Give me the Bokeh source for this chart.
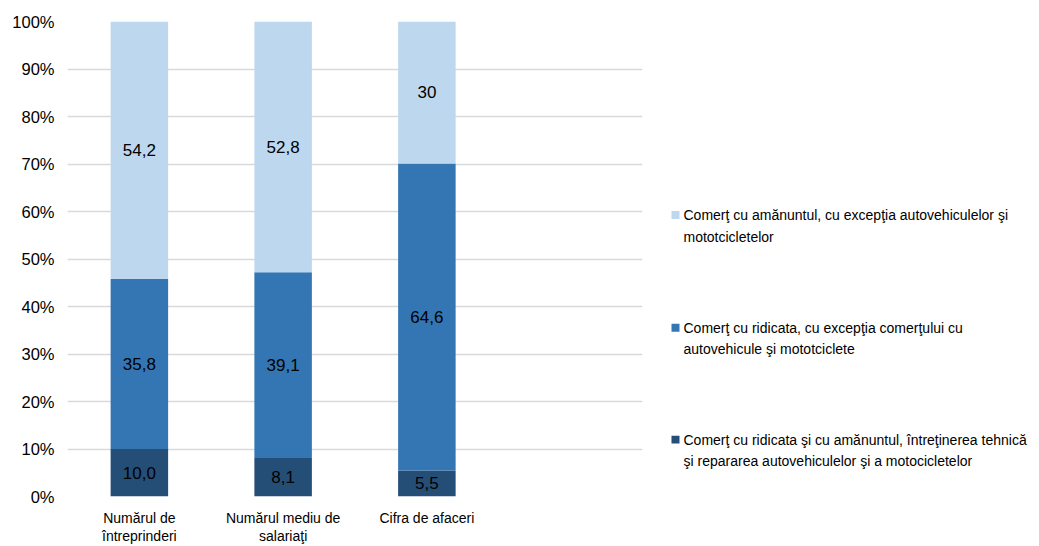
from bokeh.plotting import figure
from bokeh.models import FactorRange, Range1d, FixedTicker, PrintfTickFormatter, ColumnDataSource
from bokeh.layouts import row
from bokeh.core.properties import value
from bokeh.embed import file_html
from bokeh.resources import INLINE

# ---------------- data ----------------
categories = ["Numărul de\nîntreprinderi", "Numărul mediu de\nsalariaţi", "Cifra de afaceri"]
series_names = [
    "Comerţ cu ridicata şi cu amănuntul, întreţinerea tehnică\nşi repararea autovehiculelor şi a motocicletelor",
    "Comerţ cu ridicata, cu excepţia comerţului  cu\nautovehicule şi mototciclete",
    "Comerţ cu amănuntul, cu excepţia  autovehiculelor şi\nmototcicletelor",
]
dark_vals = [10.0, 8.1, 5.5]
mid_vals = [35.8, 39.1, 64.6]
light_vals = [54.2, 52.8, 30.0]
dark_labels = ["10,0", "8,1", "5,5"]
mid_labels = ["35,8", "39,1", "64,6"]
light_labels = ["54,2", "52,8", "30"]
y_ticks = [0, 10, 20, 30, 40, 50, 60, 70, 80, 90, 100]

colors = ["#254E77", "#3476B3", "#BDD7EE"]
FONT = "Liberation Sans"

H = 546
TOP, BOTTOM = 21, 49

factors = categories + [" "]

p = figure(x_range=FactorRange(factors=factors, range_padding=0),
           y_range=Range1d(0, 100),
           width=650, height=H, output_backend="svg", toolbar_location=None,
           min_border_left=67, min_border_right=8, min_border_top=TOP, min_border_bottom=BOTTOM)
p.outline_line_color = None
p.xgrid.grid_line_color = None
p.ygrid.grid_line_color = "#D9D9D9"
p.ygrid.grid_line_width = 1.3

p.yaxis.ticker = FixedTicker(ticks=y_ticks)
p.yaxis.formatter = PrintfTickFormatter(format="%d%%")
for ax in (p.xaxis, p.yaxis):
    ax.axis_line_color = None
    ax.major_tick_line_color = None
    ax.minor_tick_line_color = None
    ax.major_tick_out = 0
    ax.major_tick_in = 0
    ax.major_label_text_color = "#000000"
    ax.major_label_text_font = FONT
p.yaxis.major_label_text_font_size = "16.5px"
p.yaxis.major_label_standoff = 13
p.xaxis.major_label_text_font_size = "14px"
p.xaxis.major_label_standoff = 13
p.xaxis.major_label_text_line_height = 1.15

# stacked segments
bottoms = [0.0] * len(categories)
for vals, labs, col in zip([dark_vals, mid_vals, light_vals],
                           [dark_labels, mid_labels, light_labels], colors):
    tops = [b + v for b, v in zip(bottoms, vals)]
    mids = [(b + t) / 2 for b, t in zip(bottoms, tops)]
    src = ColumnDataSource(dict(x=categories, bottom=bottoms, top=tops, mid=mids, lab=labs))
    p.vbar(x="x", bottom="bottom", top="top", width=0.4, source=src,
           fill_color=col, line_color=None)
    p.text(x="x", y="mid", text="lab", source=src, text_align="center",
           text_baseline="middle", text_font=value(FONT), text_font_size="17px",
           text_color="#000000")
    bottoms = tops

# legend panel: same vertical frame as the chart, y in page pixels
LW = 1039 - 650
lg = figure(width=LW, height=H, x_range=Range1d(0, LW), y_range=Range1d(H - BOTTOM, TOP),
            output_backend="svg", toolbar_location=None,
            x_axis_location=None, y_axis_location=None,
            min_border_left=0, min_border_right=0,
            min_border_top=TOP, min_border_bottom=BOTTOM)
lg.outline_line_color = None
lg.grid.grid_line_color = None

leg_y = [440, 328, 215]  # layout: first-line centers (page px)
line_gap = 21.5
first = [n.split("\n")[0] for n in series_names]
second = [n.split("\n")[1] for n in series_names]
leg_src = ColumnDataSource(dict(
    sx=[25] * 3, sy=leg_y, tx=[33] * 3, ty2=[y + line_gap for y in leg_y],
    l1=first, l2=second, color=colors))
lg.rect(x="sx", y="sy", width=8, height=8, source=leg_src,
        fill_color="color", line_color=None)
for col_y, col_t in (("sy", "l1"), ("ty2", "l2")):
    lg.text(x="tx", y=col_y, text=col_t, source=leg_src, text_align="left",
            text_baseline="middle", text_font=value(FONT), text_font_size="14px",
            text_color="#000000")

layout = row(p, lg)
open("out.html", "w").write(file_html(layout, INLINE))
